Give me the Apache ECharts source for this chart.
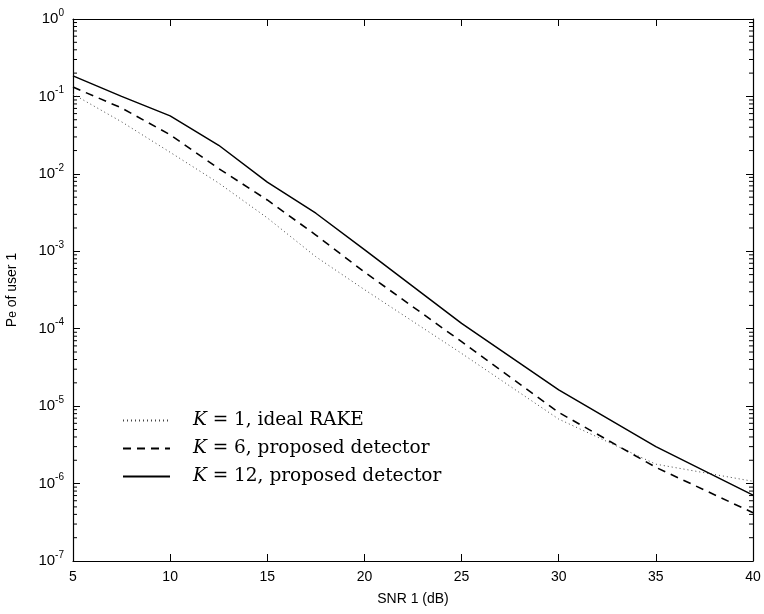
<!DOCTYPE html>
<html>
<head>
<meta charset="utf-8">
<script src="https://cdn.jsdelivr.net/npm/echarts@6/dist/echarts.min.js"></script>
<style>html,body{margin:0;padding:0;background:#fff;}#c{width:764px;height:614px;}</style>
</head>
<body>
<div id="c"></div>
<script>
// SNR values (dB)
const snr = [5, 7.5, 10, 12.5, 15, 17.5, 20, 25, 30, 35, 40];
// Pe of user 1
const k1Rake = [0.107, 0.047, 0.019, 0.0076, 0.0027, 8.5e-4, 3.2e-4, 4.8e-5, 6.8e-6, 1.78e-6, 1.07e-6];
const k6Prop = [0.132, 0.071, 0.032, 0.0117, 0.0046, 0.00162, 5.4e-4, 6.8e-5, 8.3e-6, 1.62e-6, 4.2e-7];
const k12Prop = [0.184, 0.100, 0.056, 0.0234, 0.0078, 0.0031, 0.00105, 1.17e-4, 1.62e-5, 3.0e-6, 7.1e-7];
const seriesNames = ['K = 1, ideal RAKE', 'K = 6, proposed detector', 'K = 12, proposed detector'];
const xTicks = [5, 10, 15, 20, 25, 30, 35, 40];
// minor tick values on log axis
const minorTicks = [];
for (let e = -7; e < 0; e++) for (let m = 2; m <= 9; m++) minorTicks.push(m * Math.pow(10, e));

const pair = (ys) => snr.map((x, i) => [x, ys[i]]);
const sans = 'Liberation Sans, Arial, Helvetica, sans-serif';
const serif = 'DejaVu Serif, Liberation Serif, serif';

const chart = echarts.init(document.getElementById('c'));
const axisCommon = {
  axisLine: { show: true, onZero: false, lineStyle: { color: '#000', width: 1.2 } },
  axisTick: { show: true, inside: true, length: 7, lineStyle: { color: '#000', width: 1 } },
  splitLine: { show: false }
};
chart.setOption({
  animation: false,
  backgroundColor: '#fff',
  grid: { left: 73, right: 11, top: 19, bottom: 53, outerBoundsMode: 'none', containLabel: false },
  legend: {
    orient: 'vertical', left: 117, top: 406, itemGap: 9,
    itemWidth: 47, itemHeight: 14,
    itemStyle: { opacity: 0, borderWidth: 0 },
    data: seriesNames,
    textStyle: {
      fontFamily: serif, fontSize: 18.5, color: '#000',
      rich: { i: { fontFamily: serif, fontStyle: 'italic', fontSize: 18.5, color: '#000', padding: [0, 0, 0, 18] },
              t: { fontFamily: serif, fontSize: 18.5, color: '#000' } }
    },
    formatter: (n) => '{i|K}{t|' + n.slice(1) + '}'
  },
  xAxis: [
    Object.assign({}, axisCommon, {
      type: 'value', min: 5, max: 40, interval: 5, position: 'bottom',
      name: 'SNR 1 (dB)', nameLocation: 'middle', nameGap: 31,
      nameTextStyle: { fontFamily: sans, fontSize: 14, color: '#000' },
      axisLabel: { fontFamily: sans, fontSize: 14, color: '#000', margin: 9,
        formatter: (v) => xTicks.includes(v) ? String(v) : '' }
    }),
    Object.assign({}, axisCommon, {
      type: 'value', min: 5, max: 40, interval: 5, position: 'top',
      axisLabel: { show: false }
    })
  ],
  yAxis: [
    Object.assign({}, axisCommon, {
      type: 'log', logBase: 10, min: 1e-7, max: 1, position: 'left',
      name: '{p|P}{s|e}{p| of user 1}', nameLocation: 'middle', nameGap: 54,
      nameTextStyle: { rich: { p: { fontFamily: sans, fontSize: 14, color: '#000' },
                              s: { fontFamily: sans, fontSize: 12, color: '#000', verticalAlign: 'bottom' } } },
      axisLabel: { margin: 9,
        formatter: (v) => '{b|10}{s|' + Math.round(Math.log10(v)) + '}',
        rich: { b: { fontFamily: sans, fontSize: 15, color: '#000' },
                s: { fontFamily: sans, fontSize: 10, color: '#000', verticalAlign: 'top', padding: [0, 0, 12, 0] } } }
    }),
    Object.assign({}, axisCommon, {
      type: 'log', logBase: 10, min: 1e-7, max: 1, position: 'right',
      axisLabel: { show: false }
    })
  ],
  series: [
    { name: seriesNames[0], type: 'line', data: pair(k1Rake), showSymbol: false, symbol: 'none',
      lineStyle: { color: '#444', width: 1, type: [1, 3] }, itemStyle: { color: '#444' } },
    { name: seriesNames[1], type: 'line', data: pair(k6Prop), showSymbol: false, symbol: 'none',
      lineStyle: { color: '#000', width: 1.6, type: [8, 6] }, itemStyle: { color: '#000' } },
    { name: seriesNames[2], type: 'line', data: pair(k12Prop), showSymbol: false, symbol: 'none',
      lineStyle: { color: '#000', width: 1.5, type: 'solid' }, itemStyle: { color: '#000' } },
    { type: 'custom', silent: true, data: minorTicks.map(v => [5, v]),
      renderItem: (params, api) => {
        const cs = params.coordSys;
        const y = api.coord([5, api.value(1)])[1];
        const s = { stroke: '#000', lineWidth: 1 };
        return { type: 'group', children: [
          { type: 'line', shape: { x1: cs.x, y1: y, x2: cs.x + 4, y2: y }, style: s },
          { type: 'line', shape: { x1: cs.x + cs.width, y1: y, x2: cs.x + cs.width - 4, y2: y }, style: s }
        ] };
      } }
  ]
});
</script>
</body>
</html>
